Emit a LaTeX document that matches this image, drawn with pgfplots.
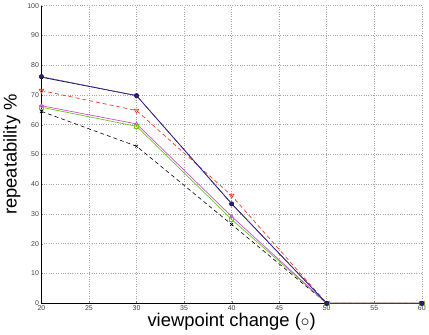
\documentclass[border=0pt]{standalone}
\usepackage{pgfplots}
\pgfplotsset{compat=1.18}
\usepackage{fontspec}
\setmainfont{Liberation Sans}
\definecolor{navy}{RGB}{45,30,120}
\definecolor{bline}{RGB}{70,50,200}
\definecolor{rline}{RGB}{235,60,40}
\definecolor{mline}{RGB}{200,80,210}
\definecolor{gline}{RGB}{110,200,30}
\begin{document}
\begin{tikzpicture}
\begin{axis}[
  scale only axis, width=381bp, height=298bp,
  xmin=20, xmax=60, ymin=0, ymax=100,
  xtick={20,25,...,60}, ytick={0,10,...,100},
  axis lines*=left,
  grid=major, grid style={dotted, gray!70, line width=0.6pt},
  tick label style={font=\fontsize{7}{8}\selectfont, text=black!75},
  /pgf/number format/assume math mode=true,
  tick align=inside, major tick length=2pt,
  axis line style={black, line width=0.6pt},
  xlabel={viewpoint change ($\circ$)}, ylabel={repeatability \%},
  label style={font=\fontsize{18.5}{20}\selectfont},
  xlabel style={yshift=4pt}, ylabel style={yshift=0pt},
  xticklabel style={yshift=1pt}, yticklabel style={xshift=1pt},
]
\addplot[black, dash pattern=on 4pt off 3pt, line width=0.6pt, mark=x, mark size=2pt, mark options={solid}] coordinates {(20,64.5) (30,52.8) (40,26.5) (50,0) (60,0)};
\addplot[gline, line width=0.7pt, mark=square, mark size=2.2pt] coordinates {(20,65.9) (30,59.5) (40,28.2) (50,0) (60,0)};
\addplot[mline, line width=0.7pt, mark=diamond, mark size=1.8pt] coordinates {(20,66.4) (30,60.3) (40,29.2) (50,0) (60,0)};
\addplot[rline, dash pattern=on 4pt off 3pt, line width=0.7pt, mark=triangle, mark size=2.6pt, mark options={solid, rotate=180}] coordinates {(20,71.5) (30,64.8) (40,36.2) (50,0) (60,0)};
\addplot[black, line width=0.7pt, mark=star, mark size=2pt] coordinates {(20,76.0) (30,69.8) (40,33.5) (50,0) (60,0)};
\addplot[bline, line width=0.5pt, mark=*, mark size=2.2pt, mark options={fill=navy, draw=navy!60!black}] coordinates {(20,76.2) (30,69.8) (40,33.4) (50,0) (60,0)};
\end{axis}
\end{tikzpicture}
\end{document}
